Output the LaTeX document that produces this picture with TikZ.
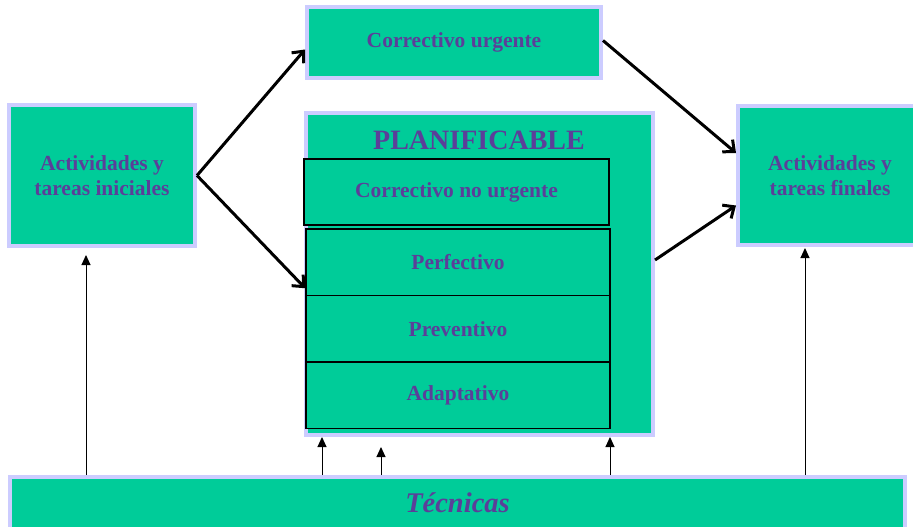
\documentclass[tikz,border=0pt]{standalone}
\usepackage{fontspec}
\setmainfont{Liberation Serif}
\usetikzlibrary{arrows.meta,calc}
\definecolor{boxgreen}{HTML}{00CC99}
\definecolor{lav}{HTML}{CCCCFF}
\definecolor{txtpurple}{HTML}{5B3F99}
\tikzset{
  gbox/.style={draw=lav, fill=boxgreen, line width=4pt, rectangle, inner sep=0pt,
    text=txtpurple, font=\fontsize{21.5}{25}\selectfont\bfseries, align=center},
  kbox/.style={draw=black, fill=boxgreen, line width=1.6pt, rectangle, inner sep=0pt,
    text=txtpurple, font=\fontsize{21.5}{25}\selectfont\bfseries, align=center},
  bigarrow/.style={line width=3pt, -{Straight Barb[length=9pt,width=16pt,line width=3pt]}},
  thinarrow/.style={line width=1pt, -{Triangle[length=10pt,width=9pt]}}
}
\begin{document}
\begin{tikzpicture}[x=1pt,y=-1pt]
\useasboundingbox (0,0) rectangle (913,527);
\clip (0,0) rectangle (913,527);
\fill[white] (0,0) rectangle (913,527);
% boxes
\node[gbox, minimum width=186, minimum height=141] (ini) at (102,175.5) {Actividades y\\tareas iniciales};
\node[gbox, minimum width=294, minimum height=71] (urg) at (454,42.5) {Correctivo urgente};
\node[gbox, minimum width=347, minimum height=322] (plan) at (479.5,274) {};
\node[text=txtpurple, font=\fontsize{28}{30}\selectfont\bfseries] (plantitle) at (479,140) {PLANIFICABLE};
\node[gbox, minimum width=184, minimum height=139] (fin) at (830,175.5) {Actividades y\\tareas finales};
\node[gbox, minimum width=895, minimum height=52] (tec) at (457.5,503) {\fontsize{28.5}{30}\selectfont\bfseries\itshape Técnicas};
\node[kbox, minimum width=305, minimum height=66] (cnu) at (456.5,192) {Correctivo no urgente};
\node[kbox, minimum width=304, minimum height=66.5] (perf) at (458,262.25) {Perfectivo};
\node[kbox, minimum width=304, minimum height=66.5] (prev) at (458,328.75) {Preventivo};
\node[kbox, minimum width=304, minimum height=66.5] (adap) at (458,395.25) {Adaptativo};
% thick arrows
\draw[bigarrow] (ini.east) -- ($(urg.west)+(0,7)$);
\draw[bigarrow] (ini.east) -- ($(perf.west)+(0,26)$);
\draw[bigarrow] ($(urg.east)+(0,-2)$) -- ($(fin.west)+(0,-22.5)$);
\draw[bigarrow] ($(plan.east)+(0,-14)$) -- ($(fin.west)+(0,30)$);
% thin arrows
\coordinate (t1) at (86,255);
\coordinate (t2) at (322,437);
\coordinate (t3) at (381,447);
\coordinate (t4) at (610,437);
\coordinate (t5) at (805,248);
\foreach \t in {t1,t2,t3,t4,t5}{
  \draw[thinarrow] (\t |- tec.north) -- (\t);
}
\end{tikzpicture}
\end{document}
